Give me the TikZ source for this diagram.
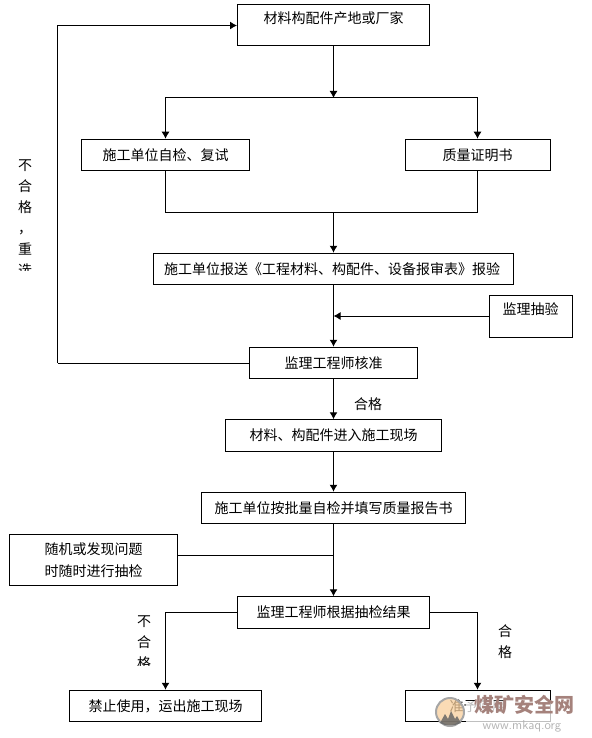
\documentclass[tikz,border=0pt]{standalone}
\usepackage{fontspec}
\usepackage{xcolor}
\usetikzlibrary{arrows.meta,positioning}
\newfontfamily\cjk{Noto Sans CJK SC}
\definecolor{markred}{HTML}{A5827C}
\definecolor{markgray}{HTML}{B4B4B4}
\definecolor{markpeach}{HTML}{F8CF9C}
\begin{document}
\begin{tikzpicture}[
    x=1pt,y=-1pt,
    box/.style={draw,line width=1pt,align=center,font=\cjk\fontsize{14}{22}\selectfont,
                inner sep=0pt,minimum height=#1},
    box/.default=31.5pt,
    raised/.style={text height=10pt,text depth=14pt},
    lab/.style={font=\cjk\fontsize{14}{21}\selectfont,inner sep=0pt,align=center},
    ln/.style={line width=1pt},
    arr/.style={ln,-{Latex[length=7pt,width=8pt]}}
  ]
  \useasboundingbox (0,0) rectangle (591,738);

  \node[box=41pt,raised,minimum width=192pt] (src) at (333.5,25.5) {材料构配件产地或厂家};
  \node[box,minimum width=168pt] (self) at (165.5,155) {施工单位自检、复试};
  \node[box,minimum width=145pt] (cert) at (477.5,155) {质量证明书};
  \node[box,minimum width=360pt] (report) at (333.5,269) {\hspace*{-3pt}施工单位报送《工程材料、构配件、设备报审表》报验};
  \node[box=42pt,raised,minimum width=83pt] (spot) at (530.5,316) {监理抽验};
  \node[box,minimum width=168pt] (chk) at (333.5,363) {监理工程师核准};
  \node[box,minimum width=216pt] (enter) at (333.5,435.5) {材料、构配件进入施工现场};
  \node[box,minimum width=264pt] (batch) at (333.5,508) {施工单位按批量自检并填写质量报告书};
  \node[box=51pt,minimum width=168pt] (rand) at (93.5,560) {随机或发现问题\\时随时进行抽检};
  \node[box,minimum width=192pt] (res) at (333.5,612.5) {监理工程师根据抽检结果};
  \node[box,minimum width=192pt] (ban) at (165.5,706) {禁止使用，运出施工现场};
  \node[box,minimum width=145pt] (ok) at (477.5,706) {准予使用};

  \coordinate (split) at (333.5,98);
  \coordinate (join) at (333.5,212);
  \coordinate (back) at (57.5,363);
  \coordinate (backtop) at (57.5,25.5);
  \coordinate (merge) at (333.5,555.5);
  \coordinate (tap) at (333.5,316);

  \draw[arr] (src) -- (split);
  \draw[arr] (split) -| (self.north);
  \draw[arr] (split) -| (cert.north);
  \draw[ln] (self.south) |- (join);
  \draw[ln] (cert.south) |- (join);
  \draw[arr] (join) -- (report.north);
  \draw[arr] (report) -- (chk);
  \draw[arr] (spot.west) -- (tap);
  \draw[ln] (chk.west) -- (back);
  \draw[ln] (back) -- (backtop);
  \draw[arr] (backtop) -- (src.west);
  \draw[arr] (chk) -- (enter);
  \draw[arr] (enter) -- (batch);
  \draw[arr] (batch) -- (res);
  \draw[ln] (rand.east |- merge) -- (merge);
  \draw[arr] (res.west) -| (ban.north);
  \draw[arr] (res.east) -| (ok.north);

  \node[lab] (passa) at (368,404) {合格};
  \begin{scope}
    \clip (10,150) rectangle (40,270);
    \node[lab,text width=14pt,anchor=north] (redo) at (25,160) {不\\合\\格\\，\\重\\选};
  \end{scope}
  \begin{scope}
    \clip (130,610) rectangle (160,665);
    \node[lab,text width=14pt,anchor=north] (failb) at (144,616) {不\\合\\格};
  \end{scope}
  \node[lab,text width=14pt] (passb) at (505,642) {合\\格};

  % site mark
  \fill[white,opacity=.75] (466,701) rectangle (582,732);
  \fill[white,opacity=.8] (434,722) rectangle (466,730);
  \node[circle,draw=gray!70,line width=2pt,fill=markpeach,fill opacity=.75,minimum size=28pt,inner sep=0pt] (logo) at (450,712) {};
  \fill[gray!75!black,opacity=.8] (440,723) -- (445,714) -- (448,719) -- (451,711) -- (455,719) -- (457,716) -- (461,723) -- (455,725) -- (445,725) -- cycle;
  \node[font=\cjk\bfseries\fontsize{20}{20}\selectfont,text=markred,inner sep=0pt] (mark) at (524,705) {煤矿安全网};
  \node[font=\sffamily\fontsize{13}{13}\selectfont,text=markgray,inner sep=0pt] (site) at (522,726) {www.mkaq.org};
\end{tikzpicture}
\end{document}
